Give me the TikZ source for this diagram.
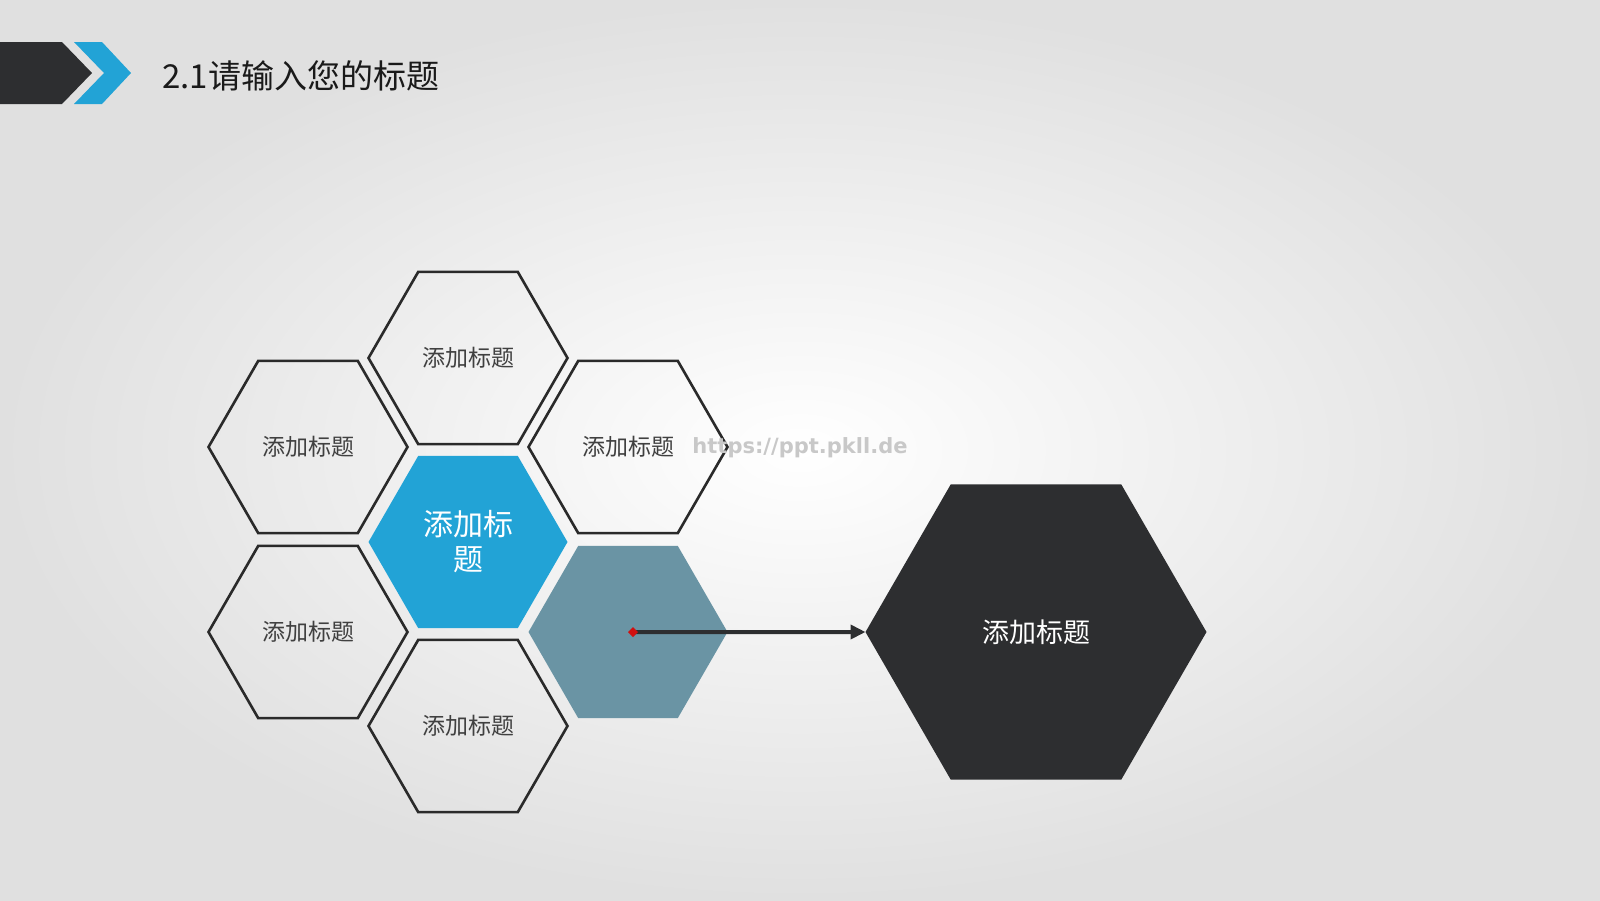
\documentclass[tikz,border=0pt]{standalone}
\usepackage{fontspec}
\setmainfont{Noto Sans CJK SC}
\newfontfamily\wmfont{DejaVu Sans}
\usetikzlibrary{shapes.geometric,arrows.meta}
\definecolor{bgout}{HTML}{E0E0E0}
\definecolor{hexblue}{HTML}{22A3D6}
\definecolor{hexslate}{HTML}{6A94A4}
\definecolor{hexdark}{HTML}{2D2E30}
\definecolor{hexline}{HTML}{2A2A2A}
\definecolor{labelgray}{HTML}{404040}
\definecolor{titleink}{HTML}{1A1A1A}
\definecolor{wmgray}{HTML}{C8C8C8}
\definecolor{tipred}{HTML}{D01010}
\begin{document}
\begin{tikzpicture}[x=1pt,y=-1pt,
  hexbase/.style={shape=regular polygon, regular polygon sides=6,
    minimum size=199pt, inner sep=0pt, outer sep=0pt},
  hexoutline/.style={hexbase, draw=hexline, line width=2.6pt, text=labelgray,
    font=\fontsize{23}{28}\selectfont},
  hexcore/.style={hexbase, fill=hexblue, text=white, align=center,
    font=\fontsize{30}{35}\selectfont},
  hexslatebox/.style={hexbase, fill=hexslate},
  hexbig/.style={hexbase, minimum size=341pt, fill=hexdark, text=white,
    font=\fontsize{27}{32}\selectfont},
  flowarrow/.style={draw=hexdark, line width=4pt,
    {Diamond[tipred,length=10pt,width=10pt]}-{Triangle[length=15pt,width=14pt]}},
  titletext/.style={text=titleink, font=\fontsize{33}{40}\selectfont, inner sep=0pt},
  watermark/.style={text=wmgray, font=\wmfont\bfseries\fontsize{21}{25}\selectfont}
]
\useasboundingbox (0,0) rectangle (1600,900);
\shade[inner color=white, outer color=bgout] (0,0) rectangle (1600,900);

% header marks
\fill[hexdark] (0,42) -- (62,42) -- (92,73) -- (62,104) -- (0,104) -- cycle;
\fill[hexblue] (74,42) -- (102,42) -- (131,73) -- (102,104) -- (74,104) -- (104,73) -- cycle;
\node[titletext, anchor=west] (title) at (162,76) {2.1请输入您的标题};

% honeycomb
\node[hexoutline] (top) at (468,358) {添加标题};
\node[hexoutline] (ul) at (308,447) {添加标题};
\node[hexoutline] (ur) at (628,447) {添加标题};
\node[hexcore] (core) at (468,542) {添加标\\题};
\node[hexoutline] (ll) at (308,632) {添加标题};
\node[hexoutline] (bot) at (468,726) {添加标题};
\node[hexslatebox] (slate) at (628,632) {};

% big hexagon
\node[hexbig] (big) at (1036,632) {添加标题};

% connector
\draw[flowarrow] (slate.center) -- (big.west);

% watermark
\node[watermark] (wm) at (800,448) {https://ppt.pkll.de};
\end{tikzpicture}
\end{document}
